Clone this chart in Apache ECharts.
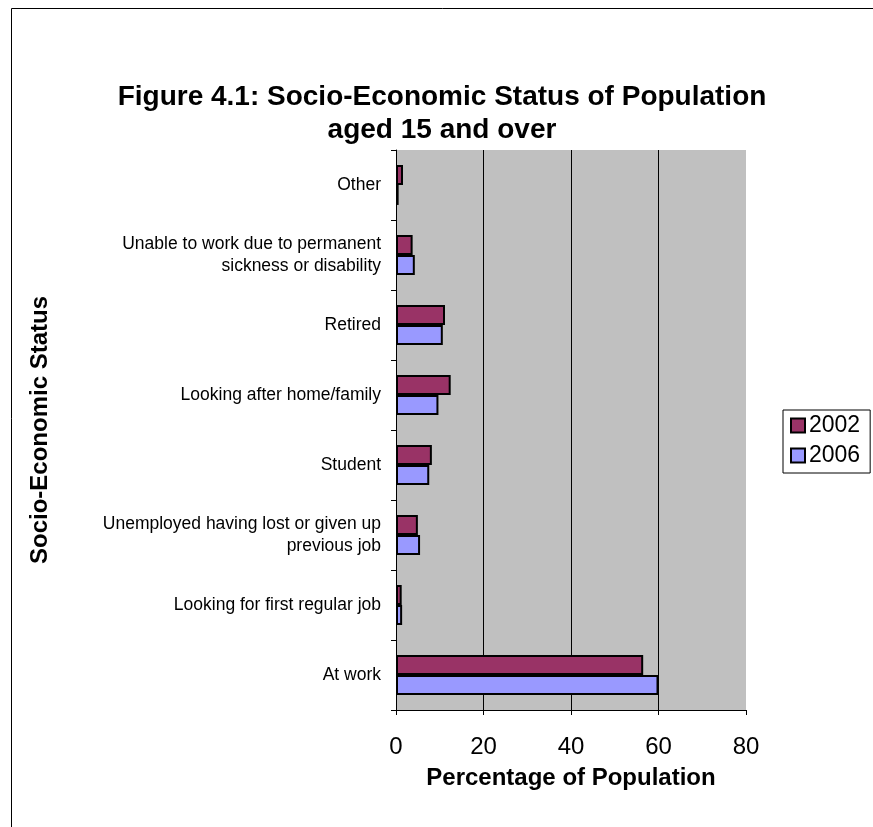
<!DOCTYPE html>
<html><head><meta charset="utf-8">
<script src="https://cdn.jsdelivr.net/npm/echarts@6/dist/echarts.min.js"></script>
<style>html,body{margin:0;padding:0;background:#fff;}#c{width:873px;height:827px;}</style>
</head><body><div id="c"></div>
<script>
var categories = ["At work", "Looking for first regular job", "Unemployed having lost or given up\nprevious job", "Student", "Looking after home/family", "Retired", "Unable to work due to permanent\nsickness or disability", "Other"];
var values2002 = [56.5, 1.3, 5.0, 8.2, 12.5, 11.2, 3.8, 1.6];
var values2006 = [60.0, 1.4, 5.5, 7.6, 9.7, 10.7, 4.3, 0.6];
var xTicks = [0, 20, 40, 60, 80];

var chart = echarts.init(document.getElementById('c'));
var F = 'Arial, "Liberation Sans", sans-serif';
chart.setOption({
  animation: false,
  title: {
    text: 'Figure 4.1: Socio-Economic Status of Population\naged 15 and over',
    left: 437, top: 76, textAlign: 'center',
    textStyle: { fontFamily: F, fontSize: 28, fontWeight: 'bold', color: '#000', lineHeight: 33 }
  },
  graphic: [{
    type: 'rect', shape: { x: 11.5, y: 8.5, width: 1000, height: 1000 },
    style: { fill: 'none', stroke: '#000', lineWidth: 1 }, silent: true, z: -10
  }],
  legend: {
    data: ['2002', '2006'], orient: 'vertical', left: 783, top: 410, icon: 'rect',
    borderColor: '#000', borderWidth: 1, padding: [4, 10, 6, 7], itemGap: 7,
    itemWidth: 14, itemHeight: 14,
    textStyle: { fontFamily: F, fontSize: 23, color: '#000', padding: [0, 0, 0, -1] }
  },
  grid: { left: 396, top: 150, width: 350, height: 560, containLabel: false,
    show: true, backgroundColor: '#c0c0c0', borderWidth: 0 },
  xAxis: {
    type: 'value', min: 0, max: 80, interval: 20,
    name: 'Percentage of Population', nameLocation: 'middle', nameGap: 56,
    nameTextStyle: { fontFamily: F, fontSize: 24, fontWeight: 'bold', color: '#000' },
    axisLine: { show: true, lineStyle: { color: '#000', width: 1 } },
    axisTick: { show: true, length: 5, lineStyle: { color: '#000' } },
    axisLabel: { fontFamily: F, fontSize: 24, color: '#000', margin: 25,
      formatter: function (v) { return xTicks.indexOf(v) >= 0 ? String(v) : ''; } },
    splitLine: { show: true, showMinLine: false, showMaxLine: false, lineStyle: { color: '#000', width: 1 } }
  },
  yAxis: {
    type: 'category', data: categories,
    name: 'Socio-Economic Status', nameLocation: 'middle', nameGap: 344, nameRotate: 90,
    nameTextStyle: { fontFamily: F, fontSize: 24, fontWeight: 'bold', color: '#000' },
    axisLine: { show: true, lineStyle: { color: '#000', width: 1 } },
    axisTick: { show: true, length: 5, alignWithLabel: false, lineStyle: { color: '#000' } },
    axisLabel: { fontFamily: F, fontSize: 17.5, color: '#000', margin: 15, lineHeight: 22, align: 'right' },
    splitLine: { show: false }
  },
  series: [
    { name: '2002', type: 'bar', data: values2002, barGap: '0%', barCategoryGap: '43%',
      itemStyle: { color: '#993366', borderColor: '#000', borderWidth: 2 } },
    { name: '2006', type: 'bar', data: values2006, barGap: '0%', barCategoryGap: '43%',
      itemStyle: { color: '#9999ff', borderColor: '#000', borderWidth: 2 } }
  ]
});
</script></body></html>
